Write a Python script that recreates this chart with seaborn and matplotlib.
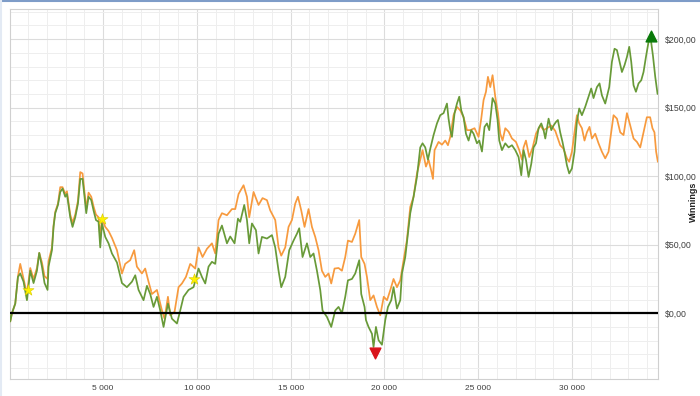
import numpy as np
import pandas as pd
import matplotlib
matplotlib.use("Agg")
import matplotlib.pyplot as plt
from matplotlib.ticker import MultipleLocator, FuncFormatter
import seaborn as sns

# ---- data ----
green_hands = [0, 53, 144, 320, 464, 586, 762, 943, 1119, 1295, 1476, 1599, 1743, 1881, 2041, 2094,
               2276, 2361, 2452, 2596, 2718, 2841, 2985, 3075, 3251, 3374, 3518, 3662, 3784, 3907,
               3997, 4104, 4227, 4371, 4493, 4621, 4760, 4850, 4941, 5117, 5293, 5474, 5741, 6007,
               6270, 6540, 6716, 6892, 7158, 7339, 7515, 7691, 7873, 8049, 8225, 8459, 8672, 8939,
               9114, 9290, 9557, 9823, 10090, 10271, 10447, 10623, 10804, 10980, 11156, 11337, 11604,
               11779, 12009, 12190, 12312, 12526, 12670, 12792, 12936, 13149, 13288, 13469, 13736,
               14002, 14178, 14354, 14498, 14711, 14924, 15153, 15334, 15457, 15633, 15868, 16044,
               16220, 16401, 16577, 16699, 16934, 17163, 17376, 17552, 17733, 17909, 18053, 18266,
               18442, 18655, 18762, 18938, 19013, 19151, 19333, 19418, 19546, 19685, 19866, 20042,
               20186, 20362, 20484, 20666, 20842, 20932, 21108, 21252, 21375, 21551, 21732, 21908,
               22030, 22174, 22318, 22441, 22617, 22798, 22974, 23150, 23331, 23416, 23507, 23597,
               23736, 23864, 23986, 24093, 24216, 24344, 24483, 24626, 24749, 24930, 25053, 25197,
               25335, 25463, 25586, 25762, 25906, 26028, 26119, 26263, 26439, 26615, 26796, 26972,
               27148, 27292, 27414, 27542, 27681, 27825, 27948, 28076, 28215, 28359, 28481, 28572,
               28748, 28892, 29014, 29142, 29244, 29367, 29489, 29596, 29724, 29847, 29991, 30129,
               30257, 30380, 30524, 30700, 30876, 31020, 31143, 31324, 31463, 31591, 31767, 31980,
               32124, 32263, 32391, 32513, 32657, 32796, 32924, 33046, 33153, 33276, 33404, 33543,
               33687, 33809, 33937, 34076, 34204, 34310, 34433, 34556]
green_winnings = [0, -6, 0, 7, 26.5, 29, 23, 9.5, 31, 22, 31, 44, 34, 22, 17, 34,
                  46, 63, 73, 79, 88.5, 91, 85, 87, 70, 63, 70, 80, 98, 98,
                  87, 73, 85, 82.5, 75, 68, 66.7, 48, 65.5, 55.7, 51, 43.6, 37, 22,
                  19, 23, 27.7, 17, 9.5, 20, 14, 4.6, 12, 2, -10, 7, -4, -7.5,
                  2, 12, 17, 19, 32.6, 26.5, 21.7, 34, 37.5, 36, 58, 64, 51,
                  56, 51, 69, 66.7, 79, 68, 51, 65.5, 60.6, 43.6, 55.7, 54.5,
                  57, 48, 31, 19, 26.5, 46, 53, 58, 62, 41, 51, 41,
                  43.6, 31, 17, 2, -2.7, -10, 2, 4.6, 0, 12, 24, 25,
                  29, 38.7, 14, 4.6, -5, -10, -15, -24.6, -10, -19.7, -23, -5,
                  4.6, 9.5, 19, 3.4, 9.5, 29, 41, 58, 73, 85, 99.5, 121,
                  124, 121, 112, 120, 130, 138.5, 144.5, 146, 153, 142, 133.6, 128.7,
                  146, 153, 158, 148, 143, 131, 126, 133.6, 131, 124, 126, 118,
                  136, 138.5, 133.6, 157, 153, 141, 126, 119, 124, 121, 122.6, 119,
                  114, 100.7, 119, 112, 99.5, 109, 121, 124, 135, 138.5, 133.6, 127.5,
                  142, 133.6, 137, 139.6, 141, 132, 125, 117.8, 108, 102, 105.6, 117.8,
                  139.6, 149.4, 144.5, 150.6, 158, 164, 157, 165, 167.7, 159, 153, 165,
                  183.5, 193, 192, 184.7, 176, 181, 187, 194.4, 183.5, 166.4, 161.6, 167.7,
                  170, 176, 187, 198, 199, 188, 172.5, 160]

orange_hands = [0, 53, 144, 320, 464, 586, 762, 943, 1119, 1295, 1476, 1599, 1743, 1881, 2041, 2094,
                2276, 2361, 2452, 2596, 2718, 2841, 2985, 3075, 3251, 3374, 3518, 3662, 3784, 3907,
                3997, 4104, 4227, 4371, 4493, 4621, 4760, 4850, 4941, 5117, 5293, 5474, 5741, 6007,
                6180, 6447, 6660, 6804, 7070, 7246, 7425, 7606, 7873, 8139, 8278, 8459, 8581, 8810,
                9024, 9205, 9418, 9647, 9914, 10090, 10303, 10538, 10804, 10980, 11156, 11337, 11604,
                11870, 12046, 12222, 12489, 12670, 12792, 13022, 13288, 13501, 13736, 13912, 14178,
                14354, 14498, 14711, 14887, 15068, 15244, 15388, 15564, 15740, 15953, 16134, 16310,
                16486, 16667, 16843, 17019, 17163, 17339, 17552, 17733, 17909, 18053, 18266, 18442,
                18655, 18762, 18938, 19066, 19242, 19418, 19600, 19776, 19962, 20138, 20314, 20484,
                20666, 20842, 21018, 21193, 21375, 21551, 21732, 21908, 22030, 22211, 22350, 22494,
                22585, 22670, 22884, 23065, 23241, 23384, 23507, 23683, 23864, 24040, 24216, 24397,
                24573, 24802, 25015, 25159, 25282, 25410, 25516, 25639, 25762, 25906, 26050, 26172,
                26295, 26439, 26615, 26796, 27009, 27185, 27329, 27414, 27542, 27718, 27900, 28076,
                28305, 28481, 28662, 28892, 29105, 29244, 29367, 29543, 29724, 29847, 29991, 30129,
                30257, 30380, 30524, 30662, 30790, 30929, 31058, 31234, 31410, 31591, 31767, 31943,
                32087, 32210, 32391, 32567, 32743, 32924, 33100, 33276, 33457, 33633, 33809, 33985,
                34161, 34284, 34391, 34481, 34572]
orange_winnings = [0, -6, 0, 7, 27, 36, 25, 14, 33, 25, 33, 44, 37, 27, 25, 38,
                   48, 64, 74, 80, 92, 92, 87, 89, 72, 66, 72, 82, 103, 102,
                   90, 76, 88, 85, 78, 72, 70, 55, 69, 63, 60, 55, 46, 29,
                   36, 38.7, 46, 34, 29, 32.6, 23, 14, 17, 2, -4, 12, -1.5, 1,
                   19, 21.7, 26.5, 36, 32.6, 48, 41, 47, 51, 43.6, 68, 73, 71.5,
                   76, 76, 87, 93.4, 85, 70, 88.5, 79, 84, 82.5, 75, 68,
                   48, 42, 48, 63, 68, 80, 85, 75, 63, 76, 63, 55.7,
                   46, 31, 26.5, 29, 21.7, 32.6, 33, 31, 41, 53, 52, 58,
                   68, 41, 36, 26.5, 9.5, 13, 4.6, -1.5, 12, 9.5, 17, 25,
                   19, 24, 38.7, 53, 77.6, 85, 102, 112, 119, 107, 112, 104,
                   98, 119, 125, 123, 126, 122.6, 128.7, 144.5, 150.6, 148, 143, 133.6,
                   133.6, 135, 128.7, 142, 155.5, 161.6, 172.5, 165, 173.7, 158, 146, 131,
                   126, 135, 132.5, 127.5, 125, 119, 112, 121, 126, 114, 121, 131,
                   137, 133.6, 135, 137, 133, 127.5, 122.6, 120, 113, 110.5, 117.8, 132,
                   144.5, 138.5, 135, 126, 132, 136, 127.5, 131, 124, 117.8, 113, 117.8,
                   132, 144.5, 142, 132, 130, 146, 137, 127.5, 125, 121, 132, 143,
                   143, 135, 132, 117.8, 110.5]

star_hands = [1000, 4940, 9870]
star_winnings = [17, 68.6, 25]
max_hand, max_winnings = 34200, 202
min_hand, min_winnings = 19470, -29

x_ticks = [5000, 10000, 15000, 20000, 25000, 30000]
y_ticks = [0, 50, 100, 150, 200]
y_label = "Winnings"

# ---- plotting ----
sns.set_theme(style="white")
plt.rcParams['font.family'] = ['Liberation Sans', 'DejaVu Sans']

fig = plt.figure(figsize=(7.0, 3.96), dpi=100)
ax = fig.add_axes([10/700, 1 - 379/396, 648/700, 370/396])

df = pd.concat([
    pd.DataFrame({"hand": orange_hands, "winnings": orange_winnings, "series": "A"}),
    pd.DataFrame({"hand": green_hands, "winnings": green_winnings, "series": "B"}),
])
sns.lineplot(data=df, x="hand", y="winnings", hue="series",
             palette={"A": "#F79A3E", "B": "#689A38"}, linewidth=1.25,
             legend=False, ax=ax, estimator=None, sort=True, zorder=3)

ax.axhline(0, color="black", linewidth=1.6, zorder=4)

ax.scatter(star_hands, star_winnings, marker="*", s=70, color="#FFF200",
           edgecolor="#D6C800", linewidth=0.4, zorder=6)
ax.scatter([max_hand], [max_winnings], marker="^", s=60, color="#0A7A0A", zorder=6)
ax.scatter([min_hand], [min_winnings], marker="v", s=60, color="#D9141B", zorder=6)

ax.set_xlim(40, 34580)
ax.set_ylim(-48, 222)

ax.xaxis.set_major_locator(plt.FixedLocator(x_ticks))
ax.xaxis.set_minor_locator(MultipleLocator(1000))
ax.yaxis.set_major_locator(plt.FixedLocator(y_ticks))
ax.yaxis.set_minor_locator(MultipleLocator(10))
ax.xaxis.set_major_formatter(FuncFormatter(lambda v, p: f"{int(v):,}".replace(",", " ")))
ax.yaxis.set_major_formatter(FuncFormatter(lambda v, p: f"${v:.2f}".replace(".", ",")))

ax.yaxis.tick_right()
ax.yaxis.set_label_position("right")
ax.set_ylabel(y_label, fontsize=6.5, fontweight="bold", color="#222222",
              rotation=90, va="center", ha="center")
ax.yaxis.set_label_coords((693 - 10) / 648, 0.5 - 8 / 370)
ax.set_xlabel("")

ax.grid(which="major", color="#DCDCDC", linewidth=0.8)
ax.grid(which="minor", color="#EEEEEE", linewidth=0.7)
ax.set_axisbelow(True)
ax.tick_params(which="both", length=0)
ax.tick_params(axis="x", labelsize=6, colors="#404040", pad=4)
ax.tick_params(axis="y", labelsize=6.3, colors="#404040", pad=5)

for s in ax.spines.values():
    s.set_color("#D0D0D0")
    s.set_linewidth(0.8)

fig.add_artist(plt.Line2D([0, 1], [0.998, 0.998], color="#7E9CC8", linewidth=1.5,
                          transform=fig.transFigure))
fig.add_artist(plt.Line2D([0.002, 0.002], [0, 1], color="#E3EAF4", linewidth=1.5,
                          transform=fig.transFigure))

fig.savefig("out.png", dpi=100)
